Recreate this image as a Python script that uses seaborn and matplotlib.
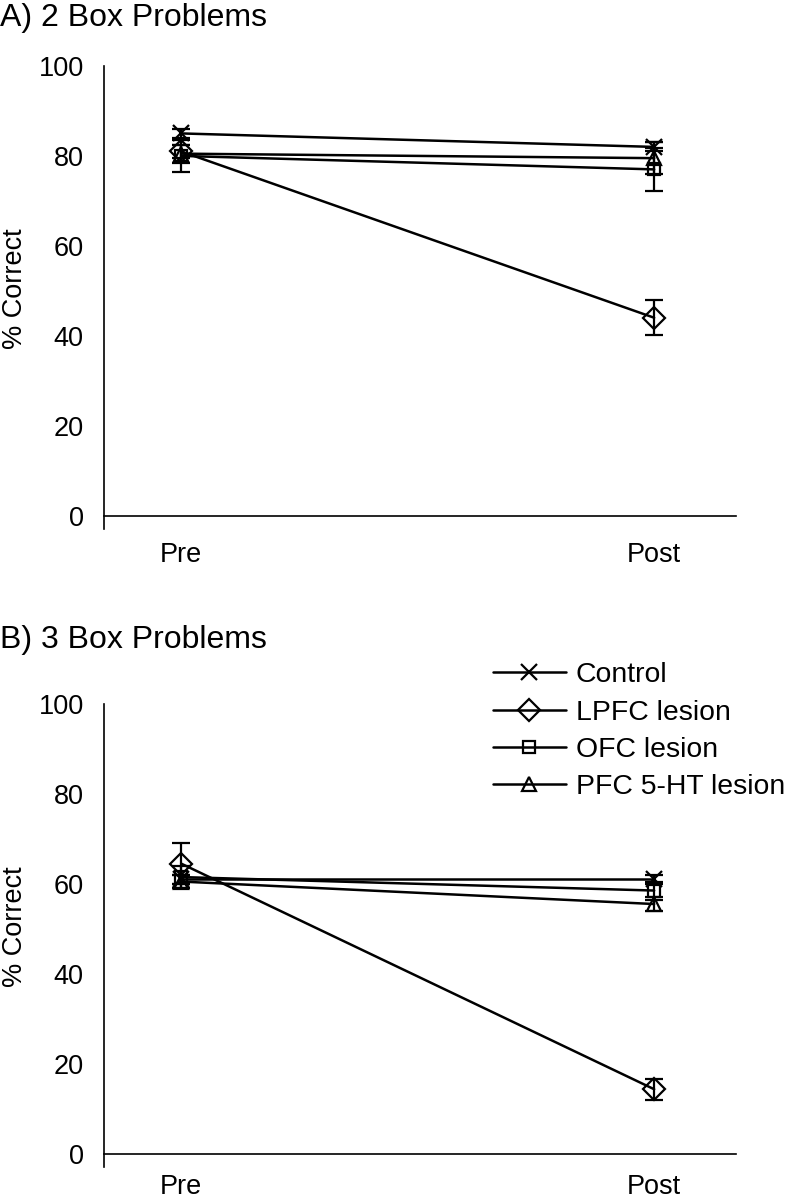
import numpy as np
import pandas as pd
import matplotlib
matplotlib.use("Agg")
import matplotlib.pyplot as plt
import seaborn as sns

sns.set_style("white")
plt.rcParams['font.family'] = ['Liberation Sans', 'DejaVu Sans']
plt.rcParams['text.color'] = 'black'
plt.rcParams['axes.labelcolor'] = 'black'
plt.rcParams['xtick.color'] = 'black'
plt.rcParams['ytick.color'] = 'black'

phases = ["Pre", "Post"]
groups = ["Control", "LPFC lesion", "OFC lesion", "PFC 5-HT lesion"]

# Panel A: 2 Box Problems
a_control = [85.0, 82.0]
a_lpfc = [81.0, 44.0]
a_ofc = [80.0, 77.0]
a_5ht = [80.5, 79.5]
a_control_err = [1.0, 1.0]
a_lpfc_err = [1.5, 3.9]
a_ofc_err = [3.5, 4.8]
a_5ht_err = [2.0, 3.5]

# Panel B: 3 Box Problems
b_control = [61.0, 61.0]
b_lpfc = [64.5, 14.3]
b_ofc = [61.5, 58.5]
b_5ht = [60.5, 55.5]
b_control_err = [1.0, 1.0]
b_lpfc_err = [4.5, 2.3]
b_ofc_err = [2.5, 2.0]
b_5ht_err = [1.5, 1.5]

yticks = [0, 20, 40, 60, 80, 100]

markers = {"Control": "x", "LPFC lesion": "D", "OFC lesion": "s", "PFC 5-HT lesion": "^"}
msizes = {"Control": 11, "LPFC lesion": 11, "OFC lesion": 8.5, "PFC 5-HT lesion": 10.5}


def make_df(vals, errs):
    rows = []
    for g, v, e in zip(groups, vals, errs):
        for i, p in enumerate(phases):
            rows.append({"phase": p, "x": i, "group": g, "value": v[i], "err": e[i]})
    return pd.DataFrame(rows)


dfA = make_df([a_control, a_lpfc, a_ofc, a_5ht], [a_control_err, a_lpfc_err, a_ofc_err, a_5ht_err])
dfB = make_df([b_control, b_lpfc, b_ofc, b_5ht], [b_control_err, b_lpfc_err, b_ofc_err, b_5ht_err])

W, H = 786, 1199
fig = plt.figure(figsize=(W / 100, H / 100), dpi=100)

left = 104 / W
width = (736 - 104) / W
axA = fig.add_axes([left, 1 - 529 / H, width, (529 - 66) / H])
axB = fig.add_axes([left, 1 - 1167 / H, width, (1167 - 704) / H])

FS = 19.5


def draw(ax, df, xpad):
    for g in groups:
        sub = df[df.group == g]
        ax.errorbar(sub["x"], sub["value"], yerr=sub["err"], fmt="none",
                    ecolor="black", elinewidth=1.6, capsize=6.5, capthick=1.6, zorder=2)
    for g in groups:
        sub = df[df.group == g]
        sns.lineplot(data=sub, x="x", y="value", color="black", marker=markers[g],
                     markersize=msizes[g], markerfacecolor="none", markeredgecolor="black",
                     markeredgewidth=1.6, linewidth=1.8, ax=ax, label=g, zorder=3,
                     legend=False)
    ax.spines["top"].set_visible(False)
    ax.spines["right"].set_visible(False)
    ax.spines["bottom"].set_position(("data", 0))
    for s in ["left", "bottom"]:
        ax.spines[s].set_linewidth(1.2)
        ax.spines[s].set_color("black")
    ax.set_xlim(-0.163, 1.173)
    ax.set_ylim(-3, 100)
    ax.set_xticks([0, 1])
    ax.set_xticklabels(phases)
    ax.set_yticks(yticks)
    ax.set_yticklabels([str(t) for t in yticks])
    ax.tick_params(axis="x", direction="out", length=10, width=1.2, pad=xpad,
                   colors="black", labelsize=FS)
    ax.tick_params(axis="y", direction="out", length=7, width=1.2, pad=7.5,
                   colors="black", labelsize=FS)
    ax.set_xlabel("")
    ax.set_ylabel("% Correct", fontsize=FS)
    ax.yaxis.set_label_coords(-0.12, 0.52)


draw(axA, dfA, 9)
draw(axB, dfB, 5)

handles, labels = axB.get_legend_handles_labels()
axB.legend(handles, labels, loc="upper left", bbox_to_anchor=(482 / W, 1 - 651 / H),
           bbox_transform=fig.transFigure, frameon=False, fontsize=20.4,
           handlelength=2.55, handletextpad=0.36, labelspacing=0.4, borderaxespad=0)

fig.text(0.0, 1 - 18 / H, "A) 2 Box Problems", fontsize=23, va="center", ha="left")
fig.text(0.0, 1 - 640 / H, "B) 3 Box Problems", fontsize=23, va="center", ha="left")

fig.savefig("out.png", dpi=100)
